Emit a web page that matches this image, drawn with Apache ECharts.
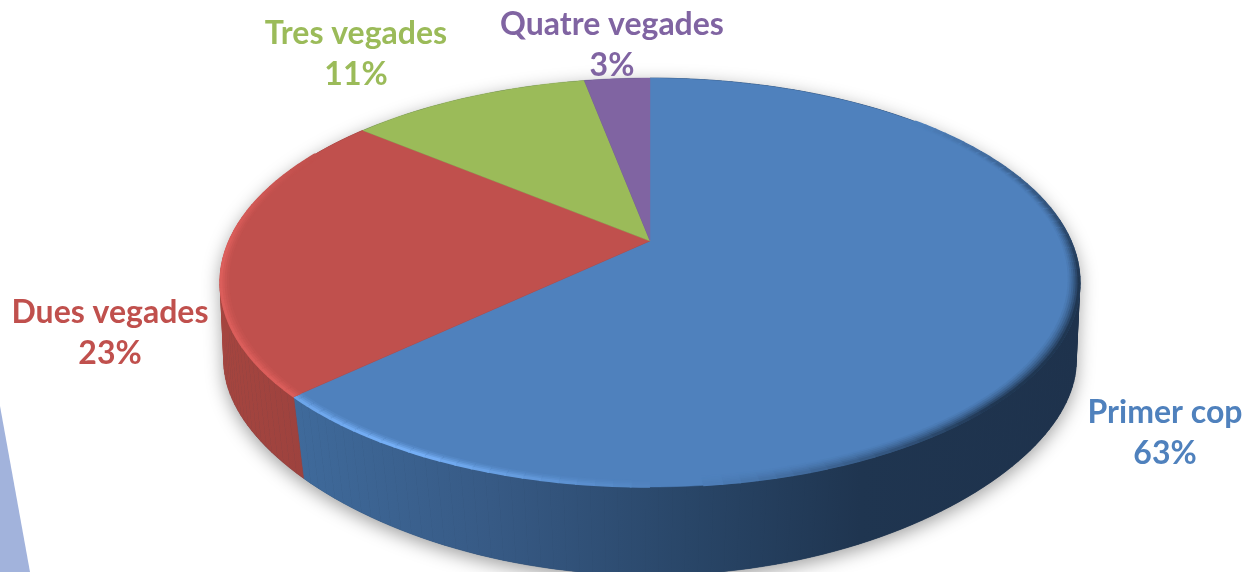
<!DOCTYPE html>
<html>
<head>
<meta charset="utf-8">
<style>
  html, body { margin: 0; padding: 0; background: #fff; }
  #main { width: 1247px; height: 572px; }
</style>
<script src="https://cdn.jsdelivr.net/npm/echarts@6/dist/echarts.min.js"></script>
</head>
<body>
<div id="main"></div>
<script>
const categories = ['Primer cop', 'Dues vegades', 'Tres vegades', 'Quatre vegades'];
const seriesValues = [63, 23, 11, 3];

const faceColors = ['#4f81bd', '#c0504d', '#9bbb59', '#8064a2'];
const labelColors = ['#4f81bd', '#c0504d', '#9bbb59', '#8064a2'];
// centre of each two line label
const labelCenters = [[1165, 433], [110, 333], [356, 54], [612, 45]];

const total = seriesValues.reduce((a, b) => a + b, 0);

// the pie is a tilted disc, so the top face is a circle under a perspective map
function topPoint(deg, r) {
  const t = deg * Math.PI / 180;
  const u = r * Math.sin(t);
  const v = r * Math.cos(t);
  const w = 1 + 0.203 * v;
  return [650 + 421 * u / w, 241 - 196 * v / w];
}

function bottomPoint(deg) {
  const t = deg * Math.PI / 180;
  const u = Math.sin(t);
  const v = Math.cos(t);
  return [650 + 420 * u / (1 + 0.17 * v), 331 - 171 * v / (1 + 0.3 * v)];
}

function sliceAngles(index) {
  let sum = 0;
  for (let i = 0; i < index; i++) sum += seriesValues[i];
  return [sum / total * 360, (sum + seriesValues[index]) / total * 360];
}

function arcPoints(fn, from, to) {
  const pts = [];
  const steps = Math.max(2, Math.ceil((to - from) / 1.5));
  for (let i = 0; i <= steps; i++) pts.push(fn(from + (to - from) * i / steps));
  return pts;
}

function ramp(x, a, b) {
  return Math.max(0, Math.min(1, (x - a) / (b - a)));
}

// bevel along the rim: how strong and in which colour
function rimStyle(deg) {
  if (deg < 176) {
    return ['#1f3550', ramp(deg, 45, 100) * (1 - ramp(deg, 135, 174)) * 0.98];
  }
  if (deg < sliceAngles(1)[0]) {
    return ['#74aef5', ramp(deg, 178, 205) * (1 - ramp(deg, 212, 235) * 0.4)];
  }
  return ['#de5f5c', 0.9 * (1 - ramp(deg, 268, 298))];
}

function wallGradient(index) {
  if (index === 1) {
    return new echarts.graphic.LinearGradient(220, 0, 305, 0, [
      { offset: 0, color: '#a5453f' },
      { offset: 1, color: '#9d423e' }
    ], true);
  }
  return new echarts.graphic.LinearGradient(295, 0, 1080, 0, [
    { offset: 0, color: '#3f6a9b' },
    { offset: 0.25, color: '#375a85' },
    { offset: 0.5, color: '#294668' },
    { offset: 0.72, color: '#1f3550' },
    { offset: 1, color: '#1e324c' }
  ], true);
}

// outline of the whole disc seen from above, only used to cast the soft shadow
function renderShadow() {
  const front = arcPoints(bottomPoint, 100, 260);
  const back = arcPoints(d => topPoint(d, 1), 260, 460);
  return {
    type: 'polygon',
    shape: { points: front.concat(back) },
    style: {
      fill: '#1f3550',
      shadowColor: 'rgba(0,0,0,0.38)',
      shadowBlur: 18,
      shadowOffsetX: 0,
      shadowOffsetY: 5
    }
  };
}

// one quad per step so the sides of the wall run straight from rim to rim
function renderWall(params, api) {
  const index = api.value(0);
  const [from, to] = sliceAngles(index);
  const top = arcPoints(d => topPoint(d, 1), from, to);
  const bottom = arcPoints(bottomPoint, from, to);
  const fill = wallGradient(index);
  const children = [];
  for (let i = 0; i < top.length - 1; i++) {
    children.push({
      type: 'polygon',
      shape: { points: [top[i], top[i + 1], bottom[i + 1], bottom[i]] },
      style: { fill: fill, stroke: fill, lineWidth: 0.6 }
    });
  }
  return { type: 'group', children: children };
}

function renderFace(params, api) {
  const index = api.value(0);
  const [from, to] = sliceAngles(index);
  const rim = arcPoints(d => topPoint(d, 1), from, to);
  const children = [{
    type: 'polygon',
    shape: { points: [topPoint(0, 0)].concat(rim) },
    style: { fill: faceColors[index], stroke: faceColors[index], lineWidth: 0.5 }
  }];
  if (index < 2) {
    for (let d = from; d < to; d += 2) {
      const end = Math.min(d + 2.2, to);
      const [color, strength] = rimStyle(d);
      if (strength <= 0.01) continue;
      // the dark bevel gets wider towards the front right
      const dark = d < 176 ? ramp(d, 60, 120) : 0;
      const bands = d < 176 ? 6 : 4;
      const spacing = d < 176 ? 0.0032 + 0.0018 * dark : 0.005;
      for (let band = bands - 1; band >= 0; band--) {
        const r = 0.998 - band * spacing;
        children.push({
          type: 'polyline',
          shape: { points: [topPoint(d, r), topPoint((d + end) / 2, r), topPoint(end, r)] },
          style: {
            fill: null,
            stroke: echarts.color.lerp(strength * Math.pow(1 - band / bands, 1.4), [faceColors[index], color]),
            lineWidth: 3
          }
        });
      }
    }
  }
  return { type: 'group', children: children };
}

function renderLabel(params, api) {
  const index = api.value(0);
  const c = labelCenters[index];
  return {
    type: 'text',
    style: {
      text: categories[index] + '\n' + seriesValues[index] + '%',
      x: c[0],
      y: c[1],
      align: 'center',
      verticalAlign: 'middle',
      fill: labelColors[index],
      font: 'bold 32px Lato, "Noto Sans", sans-serif',
      lineHeight: 41
    }
  };
}

const indexData = categories.map((name, i) => [i, seriesValues[i]]);

const chart = echarts.init(document.getElementById('main'), null, { renderer: 'canvas' });
chart.setOption({
  animation: false,
  backgroundColor: '#ffffff',
  graphic: [{
    type: 'polygon',
    z: 0,
    shape: { points: [[0, 406], [30, 572], [0, 572]] },
    style: { fill: '#a2b3dc' }
  }],
  series: [
    { type: 'custom', coordinateSystem: 'none', silent: true, z: 1, data: [[0]], renderItem: renderShadow },
    { type: 'custom', coordinateSystem: 'none', silent: true, z: 2, data: indexData.slice(0, 2), renderItem: renderWall },
    { type: 'custom', coordinateSystem: 'none', silent: true, z: 3, data: indexData, renderItem: renderFace },
    { type: 'custom', coordinateSystem: 'none', silent: true, z: 4, data: indexData, renderItem: renderLabel }
  ]
});
</script>
</body>
</html>
